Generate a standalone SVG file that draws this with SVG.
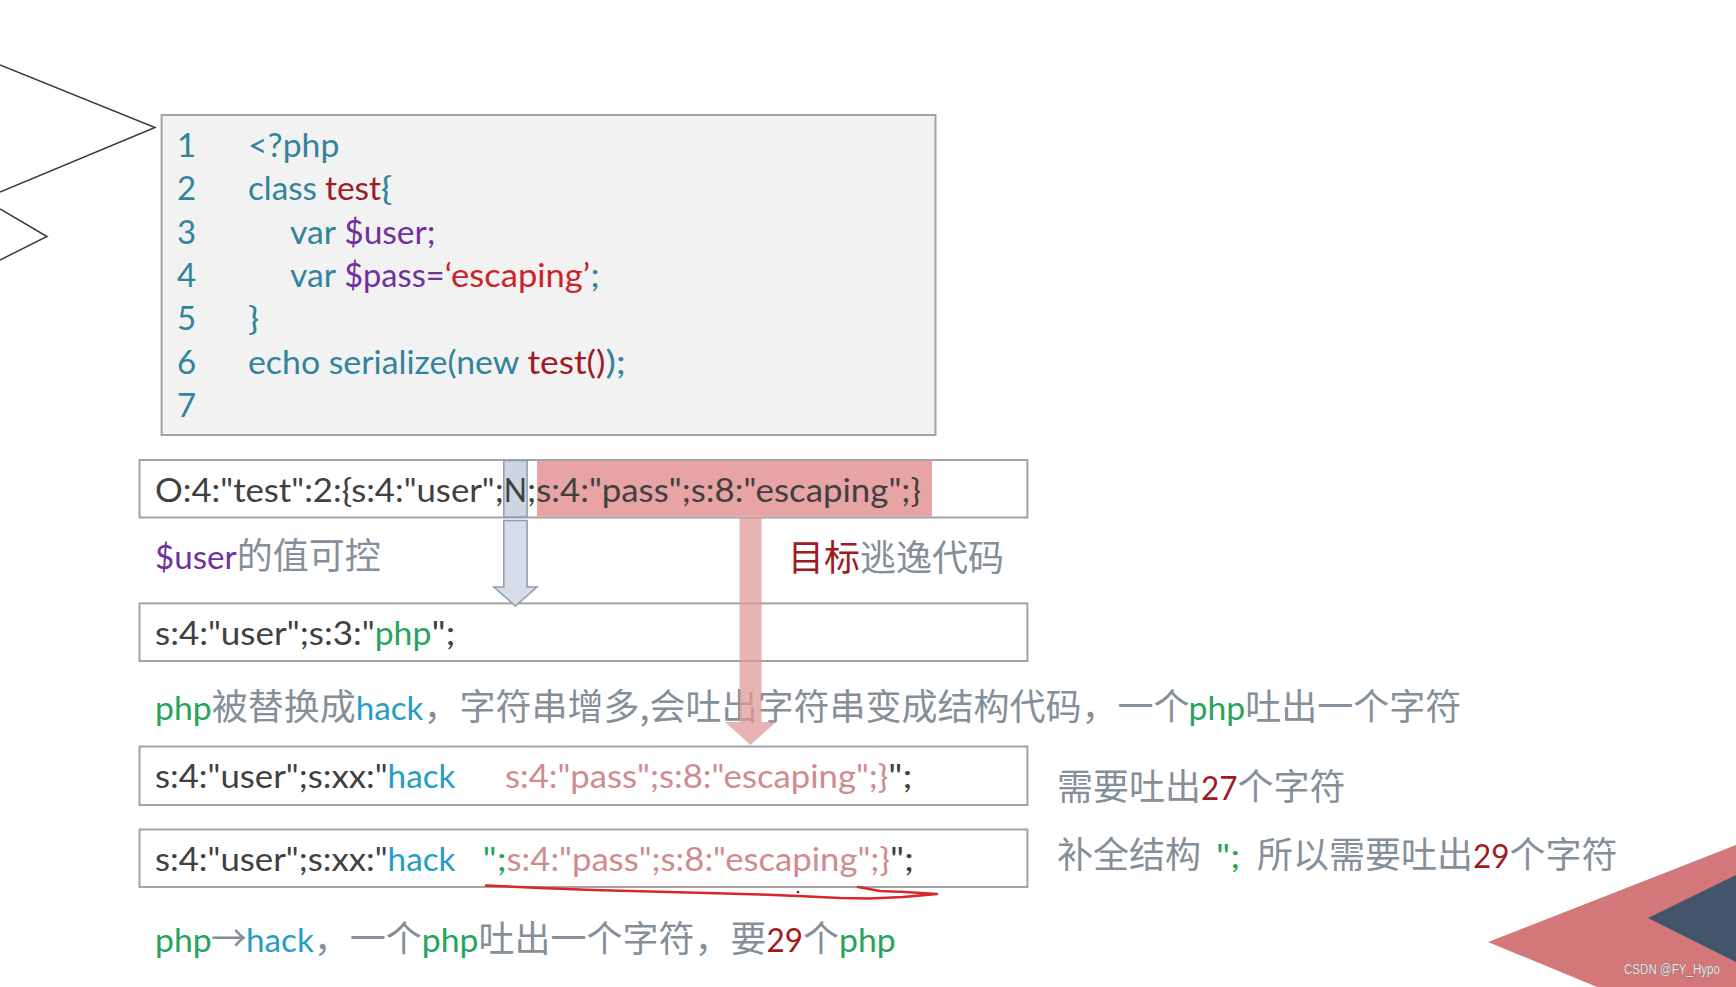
<svg xmlns="http://www.w3.org/2000/svg" width="1736" height="987" viewBox="0 0 1736 987">
<style>
.lt{font-family:Lato,"Noto Sans CJK SC",sans-serif;font-size:33px}
.cj{font-family:"Noto Sans CJK SC",sans-serif;font-size:36px}
.dk{fill:#404040}.gr{fill:#27a35a}.hk{fill:#269cc6}.gy{fill:#858f99}.pk{fill:#cf8b8d}
.dr{fill:#9e1b1f}.tl{fill:#31849b}.pu{fill:#7030a0}.rd{fill:#cc2229}
.box{fill:#ffffff;stroke:#a3a3a3;stroke-width:2}
.deco{fill:none;stroke:#3a3a3a;stroke-width:1.5}
</style>
<rect width="1736" height="987" fill="#ffffff"/>
<g id="decor">
<polyline class="deco" points="0,65 155,127.5 0,192"/>
<polyline class="deco" points="0,209 47,236.5 0,260"/>
<polygon points="1488,942 1736,845 1736,987 1597,987" fill="#d4777a"/>
<polygon points="1648,918 1736,875 1736,962" fill="#44546a"/>
</g>
<g id="code">
<rect x="161.6" y="115" width="773.9" height="320" fill="#f2f2f2" stroke="#a3a3a3" stroke-width="2"/>
<g class="lt tl">
<text x="177" y="157">1</text>
<text x="177" y="200.3">2</text>
<text x="177" y="243.6">3</text>
<text x="177" y="287">4</text>
<text x="177" y="330.3">5</text>
<text x="177" y="373.6">6</text>
<text x="177" y="417">7</text>
</g>
<text class="lt tl" x="248" y="157" textLength="91.3" lengthAdjust="spacingAndGlyphs">&lt;?php</text>
<text class="lt tl" x="248" y="200.3" textLength="68.9" lengthAdjust="spacingAndGlyphs">class</text>
<text class="lt dr" x="325" y="200.3" textLength="56.1" lengthAdjust="spacingAndGlyphs">test</text>
<text class="lt tl" x="381.1" y="200.3" textLength="11.2" lengthAdjust="spacingAndGlyphs">{</text>
<text class="lt tl" x="290" y="243.6" textLength="46.1" lengthAdjust="spacingAndGlyphs">var</text>
<text class="lt pu" x="344.2" y="243.6" textLength="91.4" lengthAdjust="spacingAndGlyphs">$user;</text>
<text class="lt tl" x="290" y="287" textLength="46.1" lengthAdjust="spacingAndGlyphs">var</text>
<text class="lt pu" x="344.2" y="287" textLength="100.5" lengthAdjust="spacingAndGlyphs">$pass=</text>
<text class="lt rd" x="444.7" y="287" textLength="145.5" lengthAdjust="spacingAndGlyphs">‘escaping’</text>
<text class="lt tl" x="590.2" y="287" textLength="9.6" lengthAdjust="spacingAndGlyphs">;</text>
<text class="lt tl" x="248" y="330.3" textLength="11.2" lengthAdjust="spacingAndGlyphs">}</text>
<text class="lt tl" x="248" y="373.6" textLength="271.3" lengthAdjust="spacingAndGlyphs">echo serialize(new</text>
<text class="lt dr" x="527.5" y="373.6" textLength="77.9" lengthAdjust="spacingAndGlyphs">test()</text>
<text class="lt tl" x="605.4" y="373.6" textLength="20.6" lengthAdjust="spacingAndGlyphs">);</text>
</g>
<g id="row1">
<rect class="box" x="139.5" y="460" width="887.9" height="57.5"/>
<rect x="537" y="461" width="395" height="55.5" fill="#e8a4a4"/>
<rect x="503.8" y="460.5" width="23.3" height="56.5" fill="#ccd5e0" stroke="#8d9bad" stroke-width="1.5"/>
<text class="lt dk" x="155" y="502" textLength="348.8" lengthAdjust="spacingAndGlyphs">O:4:"test":2:{s:4:"user";</text>
<text class="lt dk" x="503.8" y="502" textLength="23.3" lengthAdjust="spacingAndGlyphs">N</text>
<text class="lt dk" x="527.1" y="502" textLength="393.8" lengthAdjust="spacingAndGlyphs">;s:4:"pass";s:8:"escaping";}</text>
</g>
<g id="label-user">
<text class="lt pu" x="155" y="569" textLength="81.7" lengthAdjust="spacingAndGlyphs">$user</text>
<text class="cj gy" x="236.7" y="569">的值可控</text>
</g>
<g id="label-target">
<text class="cj dr" x="788" y="571">目标</text>
<text class="cj gy" x="860" y="571">逃逸代码</text>
</g>
<g id="row2">
<rect class="box" x="139.5" y="603.4" width="887.9" height="57.6"/>
<text class="lt dk" x="155" y="645" textLength="219.7" lengthAdjust="spacingAndGlyphs">s:4:"user";s:3:"</text>
<text class="lt gr" x="374.7" y="645" textLength="56.7" lengthAdjust="spacingAndGlyphs">php</text>
<text class="lt dk" x="431.4" y="645" textLength="24.1" lengthAdjust="spacingAndGlyphs">";</text>
</g>
<g id="label-replace">
<text class="lt gr" x="155" y="720" textLength="56.7" lengthAdjust="spacingAndGlyphs">php</text>
<text class="cj gy" x="211.7" y="720">被替换成</text>
<text class="lt hk" x="355.7" y="720" textLength="67.8" lengthAdjust="spacingAndGlyphs">hack</text>
<text class="cj gy" x="423.5" y="720">，字符串增多,会吐出字符串变成结构代码，一个</text>
<text class="lt gr" x="1188.5" y="720" textLength="56.7" lengthAdjust="spacingAndGlyphs">php</text>
<text class="cj gy" x="1245.2" y="720">吐出一个字符</text>
</g>
<g id="row3">
<rect class="box" x="139.5" y="746.5" width="887.9" height="58.5"/>
<text class="lt dk" x="155" y="788" textLength="232.6" lengthAdjust="spacingAndGlyphs">s:4:"user";s:xx:"</text>
<text class="lt hk" x="387.6" y="788" textLength="67.8" lengthAdjust="spacingAndGlyphs">hack</text>
<text class="lt pk" x="505" y="788" textLength="383.3" lengthAdjust="spacingAndGlyphs">s:4:"pass";s:8:"escaping";}</text>
<text class="lt dk" x="888.3" y="788" textLength="24.1" lengthAdjust="spacingAndGlyphs">";</text>
</g>
<g id="row4">
<rect class="box" x="139.5" y="829.5" width="887.9" height="57.5"/>
<text class="lt dk" x="155" y="871" textLength="232.6" lengthAdjust="spacingAndGlyphs">s:4:"user";s:xx:"</text>
<text class="lt hk" x="387.6" y="871" textLength="67.8" lengthAdjust="spacingAndGlyphs">hack</text>
<text class="lt gr" x="482.5" y="871" textLength="24.1" lengthAdjust="spacingAndGlyphs">";</text>
<text class="lt pk" x="506.6" y="871" textLength="383.3" lengthAdjust="spacingAndGlyphs">s:4:"pass";s:8:"escaping";}</text>
<text class="lt dk" x="889.9" y="871" textLength="24.1" lengthAdjust="spacingAndGlyphs">";</text>
<path d="M486,885.5 L540,888 L593,890 L650,891.5 L707,893 L760,894.5 L798,896 L840,898 L870,898.5 L903,897 L937,894 L905,892 L880,891 L858,887" fill="none" stroke="#d9262a" stroke-width="2.5" stroke-linejoin="round" stroke-linecap="round"/>
<circle cx="798" cy="892" r="1.3" fill="#5a2a2a"/>
</g>
<g id="note-27">
<text class="cj gy" x="1057" y="800">需要吐出</text>
<text class="lt dr" x="1201" y="800" textLength="36.5" lengthAdjust="spacingAndGlyphs">27</text>
<text class="cj gy" x="1237.5" y="800">个字符</text>
</g>
<g id="note-29">
<text class="cj gy" x="1057" y="868">补全结构</text>
<text class="lt gr" x="1216" y="868" textLength="24.1" lengthAdjust="spacingAndGlyphs">";</text>
<text class="cj gy" x="1257" y="868">所以需要吐出</text>
<text class="lt dr" x="1473" y="868" textLength="36.5" lengthAdjust="spacingAndGlyphs">29</text>
<text class="cj gy" x="1509.5" y="868">个字符</text>
</g>
<g id="label-bottom">
<text class="lt gr" x="155" y="952" textLength="56.7" lengthAdjust="spacingAndGlyphs">php</text>
<text class="cj gy" x="211" y="952">→</text>
<text class="lt hk" x="246" y="952" textLength="67.8" lengthAdjust="spacingAndGlyphs">hack</text>
<text class="cj gy" x="313.8" y="952">，一个</text>
<text class="lt gr" x="421.8" y="952" textLength="56.7" lengthAdjust="spacingAndGlyphs">php</text>
<text class="cj gy" x="478.5" y="952">吐出一个字符，要</text>
<text class="lt dr" x="766.5" y="952" textLength="36.5" lengthAdjust="spacingAndGlyphs">29</text>
<text class="cj gy" x="803" y="952">个</text>
<text class="lt gr" x="839" y="952" textLength="56.7" lengthAdjust="spacingAndGlyphs">php</text>
</g>
<g id="connectors">
<polygon points="503.8,520.5 527.1,520.5 527.1,587 537,587 515.4,606 493.8,587 503.8,587" fill="#d6dde6" stroke="#8d9bad" stroke-width="1.5" stroke-linejoin="miter"/>
<polygon points="739.5,517.5 761.5,517.5 761.5,722 776,722 750.5,745 725,722 739.5,722" fill="#e29999" fill-opacity="0.75"/>
</g>
<text x="1624" y="974" font-family="'Liberation Sans',sans-serif" font-size="14" fill="#e8e8e8" stroke="#6a6a6a" stroke-width="0.7" paint-order="stroke" textLength="96" lengthAdjust="spacingAndGlyphs">CSDN @FY_Hypo</text>
</svg>
